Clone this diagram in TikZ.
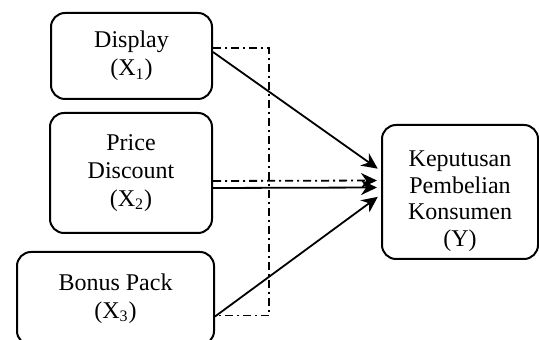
\documentclass[tikz,border=0pt]{standalone}
\usepackage{fontspec}
\setmainfont{Liberation Serif}
\usetikzlibrary{arrows.meta, positioning}

\begin{document}
\begin{tikzpicture}[
  x=0.5pt, y=-0.5pt,
  >=Stealth,
  every node/.style={font=\fontsize{12}{14}\selectfont},
  var/.style={rectangle, draw=black, line width=1pt, rounded corners=7pt,
             align=center, inner sep=2pt},
  arrow/.style={-{Stealth[length=8pt,width=7.5pt]}, line width=0.9pt, shorten >=2pt},
  dashdot/.style={line width=0.9pt, dash pattern=on 4pt off 2pt on 1pt off 2pt}
]
\useasboundingbox (0,0) rectangle (539,340);

% Variables
\node[var, minimum width=80.5pt, minimum height=43pt] (disp) at (131.5,56)
  {Display\\(X\textsubscript{1})};
\node[var, minimum width=81pt, minimum height=60pt] (price) at (131,173)
  {Price\\Discount\\(X\textsubscript{2})};
\node[var, minimum width=98.5pt, minimum height=46.5pt] (bonus) at (115.5,298.5)
  {Bonus Pack\\(X\textsubscript{3})};
\node[var, minimum width=78pt, minimum height=67pt,
      font=\fontsize{12}{13.3}\selectfont] (kep) at (460,192)
  {\rule{0pt}{17pt}Keputusan\\Pembelian\\Konsumen\\(Y)};

% Simultaneous bracket
\coordinate (simul) at (269,48);
\draw[dashdot] ([yshift=4pt]disp.east) -- (simul) |- ([yshift=-8.5pt]bonus.east);

% Arrows
\draw[arrow] ([yshift=2pt]disp.east) -- ([yshift=10.5pt]kep.west);
\draw[arrow, dashdot] ([yshift=-4pt]price.east) -- ([yshift=5.75pt]kep.west);
\draw[arrow] ([yshift=-7.5pt]price.east) -- ([yshift=2.25pt]kep.west);
\draw[arrow] ([yshift=-9pt]bonus.east) -- ([yshift=-1.25pt]kep.west);

\end{tikzpicture}
\end{document}
